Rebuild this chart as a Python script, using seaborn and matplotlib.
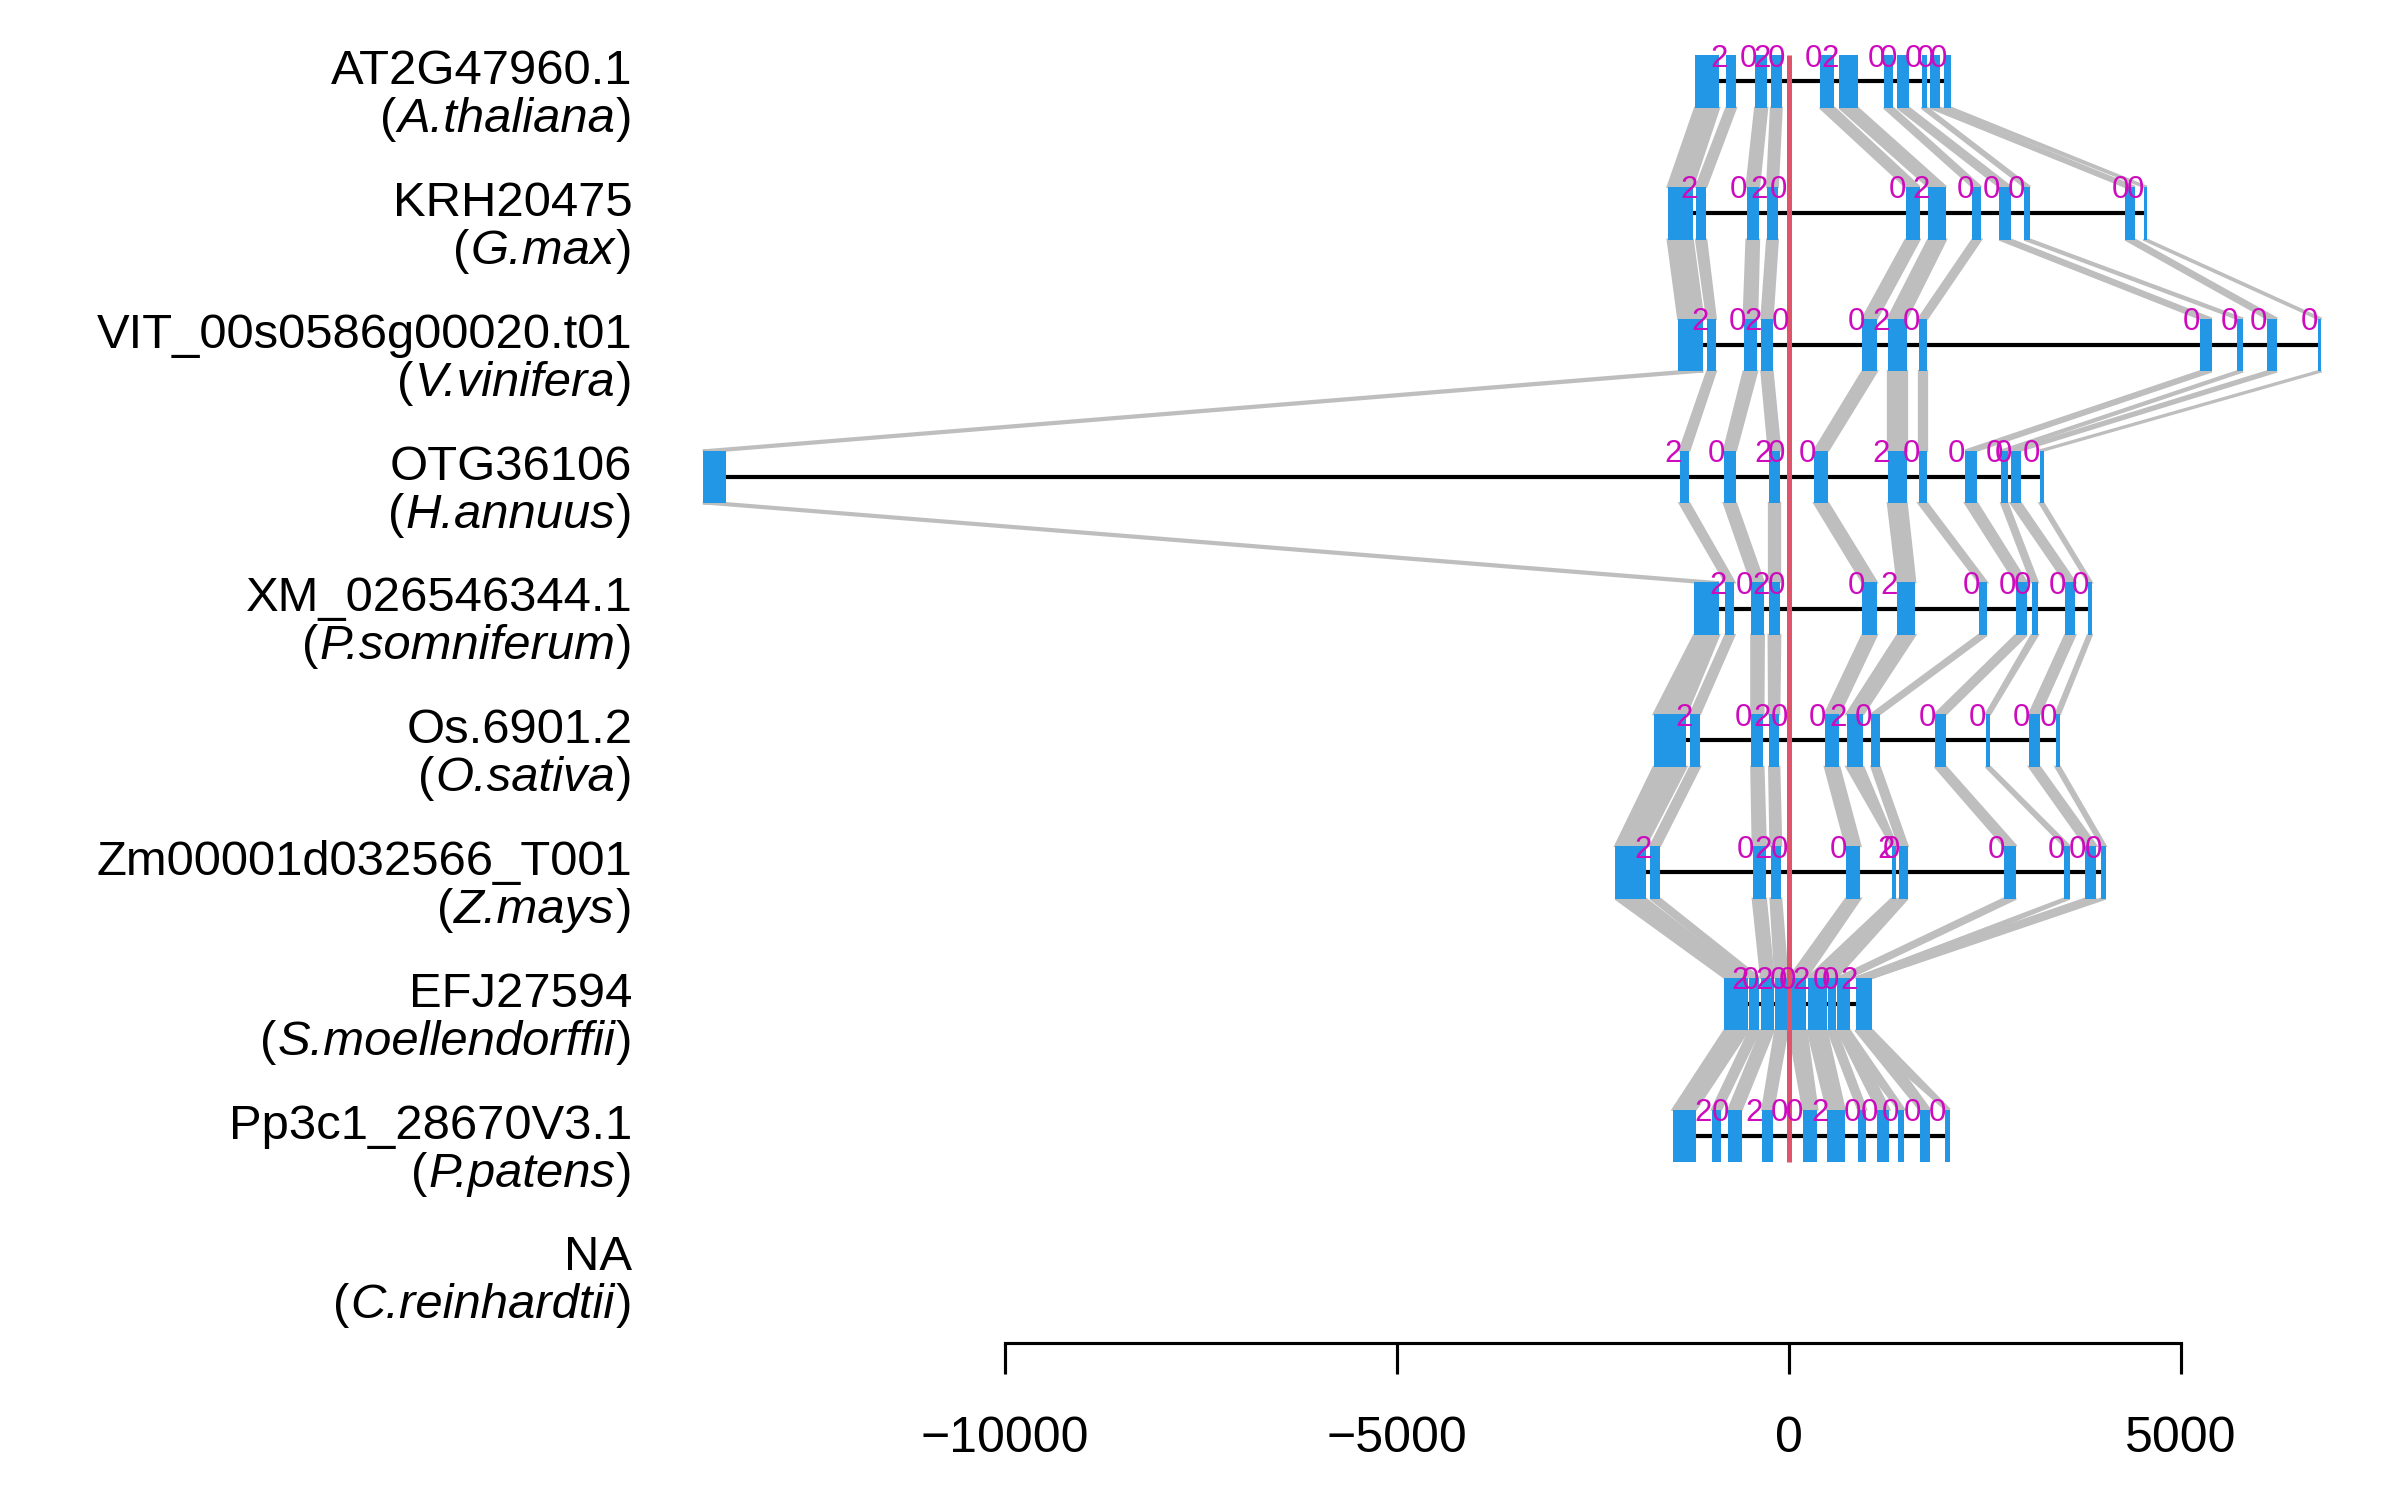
import matplotlib
matplotlib.use("Agg")
import matplotlib.pyplot as plt
import matplotlib.transforms as mtransforms
import seaborn as sns

# =====================
# DATA (genomic coordinates relative to the anchor, bp)
# =====================
gene_ids = ["AT2G47960.1", "KRH20475", "VIT_00s0586g00020.t01", "OTG36106",
            "XM_026546344.1", "Os.6901.2", "Zm00001d032566_T001", "EFJ27594",
            "Pp3c1_28670V3.1", "NA"]
species = ["A.thaliana", "G.max", "V.vinifera", "H.annuus", "P.somniferum",
           "O.sativa", "Z.mays", "S.moellendorffii", "P.patens", "C.reinhardtii"]

exon_starts = [
    [-1195, -797, -429, -227, 398, 644, 1214, 1385, 1692, 1802, 1974],
    [-1545, -1183, -539, -276, 1490, 1778, 2342, 2685, 3004, 4291, 4524],
    [-1410, -1042, -576, -349, 938, 1263, 1655, 5241, 5713, 6099, 6743],
    [-13850, -1392, -828, -257, 325, 1263, 1655, 2250, 2709, 2832, 3200],
    [-1208, -809, -478, -257, 938, 1385, 2421, 2893, 3096, 3525, 3813],
    [-1723, -1257, -478, -251, 460, 736, 1054, 1864, 2513, 3065, 3402],
    [-2213, -1765, -460, -233, 729, 1312, 1404, 2740, 3506, 3782, 3985],
    [-822, -502, -354, -173, 4, 240, 498, 620, 852],
    [-1481, -981, -770, -338, 182, 487, 884, 1129, 1396, 1667, 1997],
    [],
]
exon_ends = [
    [-889, -674, -276, -92, 582, 877, 1330, 1533, 1765, 1931, 2072],
    [-1226, -1054, -380, -141, 1667, 2004, 2452, 2832, 3077, 4414, 4567],
    [-1091, -932, -405, -208, 1122, 1502, 1765, 5394, 5793, 6228, 6792],
    [-13550, -1269, -674, -110, 503, 1502, 1765, 2403, 2789, 2961, 3249],
    [-889, -693, -319, -110, 1122, 1612, 2526, 3034, 3175, 3653, 3862],
    [-1306, -1134, -325, -123, 644, 950, 1159, 2005, 2568, 3200, 3457],
    [-1827, -1643, -294, -98, 913, 1373, 1514, 2899, 3580, 3923, 4040],
    [-519, -375, -194, -17, 224, 481, 607, 776, 1067],
    [-1185, -863, -601, -199, 364, 711, 986, 1282, 1472, 1798, 2052],
    [],
]

# intron phase labels
phase_pos = [
    [-887, -520, -337, -153, 318, 532, 1114, 1267, 1591, 1744, 1909],
    [-1267, -643, -379, -135, 1389, 1683, 2246, 2583, 2907, 4223, 4425],
    [-1132, -661, -459, -110, 857, 1175, 1561, 5129, 5618, 5985, 6640],
    [-1481, -918, -324, -153, 233, 1175, 1561, 2142, 2619, 2736, 3091],
    [-900, -569, -355, -153, 857, 1285, 2326, 2785, 2980, 3427, 3720],
    [-1334, -581, -343, -122, 361, 624, 949, 1769, 2411, 2968, 3317],
    [-1854, -551, -324, -122, 636, 1236, 1310, 2644, 3409, 3684, 3886],
    [-620, -485, -312, -135, -21, 160, 413, 527, 763],
    [-1087, -873, -439, -114, 76, 393, 814, 1033, 1299, 1574, 1889],
    [],
]
phase_val = [
    [2, 0, 2, 0, 0, 2, 0, 0, 0, 0, 0],
    [2, 0, 2, 0, 0, 2, 0, 0, 0, 0, 0],
    [2, 0, 2, 0, 0, 2, 0, 0, 0, 0, 0],
    [2, 0, 2, 0, 0, 2, 0, 0, 0, 0, 0],
    [2, 0, 2, 0, 0, 2, 0, 0, 0, 0, 0],
    [2, 0, 2, 0, 0, 2, 0, 0, 0, 0, 0],
    [2, 0, 2, 0, 0, 2, 0, 0, 0, 0, 0],
    [2, 0, 2, 0, 0, 2, 0, 0, 2],
    [2, 0, 2, 0, 0, 2, 0, 0, 0, 0, 0],
    [],
]

# exon homology links between neighbouring rows (upper exon, lower exon)
same11 = [(0, 0), (1, 1), (2, 2), (3, 3), (4, 4), (5, 5),
          (6, 6), (7, 7), (8, 8), (9, 9), (10, 10)]
links = [
    same11, same11, same11, same11, same11, same11,
    [(0, 0), (1, 1), (2, 2), (3, 3), (4, 4), (5, 5), (6, 6),
     (7, 7), (8, 8), (9, 8), (10, 8)],
    [(0, 0), (1, 1), (2, 2), (3, 3), (4, 4), (5, 5), (6, 6),
     (7, 7), (7, 8), (8, 9), (8, 10)],
]

axis_ticks = [-10000, -5000, 0, 5000]

# =====================
# STYLE
# =====================
EXON = "#2297E6"
BAND = "#BEBEBE"
ANCHOR = "#DF536B"
PHASE = "#CD0BBC"
EXON_H = 0.4
NAME_FS = 23.5

sns.set_style("white")
plt.rcParams["font.family"] = ["Liberation Sans", "DejaVu Sans"]
plt.rcParams["text.color"] = "black"
plt.rcParams["xtick.color"] = "black"
plt.rcParams["xtick.labelcolor"] = "black"

fig = plt.figure(figsize=(16, 10), dpi=150)
ax = fig.add_axes([0.2667, 0.1047, 0.7312, 0.8953])
ax.set_xlim(-14650, 7730)
ax.set_ylim(9.571, -0.618)

# homology bands (filled polygons with a thin border of the same grey)
for r, pairs in enumerate(links):
    for a, b in pairs:
        xs = [exon_starts[r][a], exon_ends[r][a], exon_ends[r + 1][b], exon_starts[r + 1][b]]
        ys = [r + EXON_H / 2, r + EXON_H / 2, r + 1 - EXON_H / 2, r + 1 - EXON_H / 2]
        ax.fill(xs, ys, facecolor=BAND, edgecolor=BAND, lw=1.1, zorder=1)

# gene models
for r, (s, e) in enumerate(zip(exon_starts, exon_ends)):
    if not s:
        continue
    ax.hlines(r, min(s), max(e), color="black", lw=2.0, zorder=2)
    ax.barh([r] * len(s), [b - a for a, b in zip(s, e)], left=s,
            height=EXON_H, color=EXON, lw=0, zorder=3)
    for p, v in zip(phase_pos[r], phase_val[r]):
        ax.text(p, r - 0.112, str(v), ha="center", va="baseline",
                fontsize=15, color=PHASE, zorder=5)

# anchor line
n_genes = sum(1 for s in exon_starts if s)
ax.vlines(0, -EXON_H / 2, n_genes - 1 + EXON_H / 2, color=ANCHOR, lw=2.4, zorder=4)

# row labels: id, then "(species)" with the species in italics
renderer = fig.canvas.get_renderer()
trans = mtransforms.blended_transform_factory(fig.transFigure, ax.transData)
label_x = 0.2635
for r, (g, sp) in enumerate(zip(gene_ids, species)):
    ax.text(label_x, r + 0.02, g, ha="right", va="baseline", fontsize=NAME_FS,
            transform=trans)
    y = r + 0.385
    shift = 0
    for piece, st in [(")", "normal"), (sp, "italic"), ("(", "normal")]:
        t = ax.text(label_x, y, piece, ha="right", va="baseline", fontsize=NAME_FS,
                    style=st,
                    transform=mtransforms.offset_copy(trans, fig=fig, x=-shift, units="dots"))
        shift += t.get_window_extent(renderer).width + 1

ax.set_yticks([])
ax.set_xticks(axis_ticks)
for side in ["left", "top", "right"]:
    ax.spines[side].set_visible(False)
ax.spines["bottom"].set_bounds(axis_ticks[0], axis_ticks[-1])
ax.spines["bottom"].set_linewidth(1.5)
ax.spines["bottom"].set_color("black")
ax.tick_params(axis="x", direction="out", length=15, width=1.5,
               labelsize=24, pad=20, color="black", bottom=True)
ax.patch.set_alpha(0)

fig.savefig("out.png", dpi=150)
